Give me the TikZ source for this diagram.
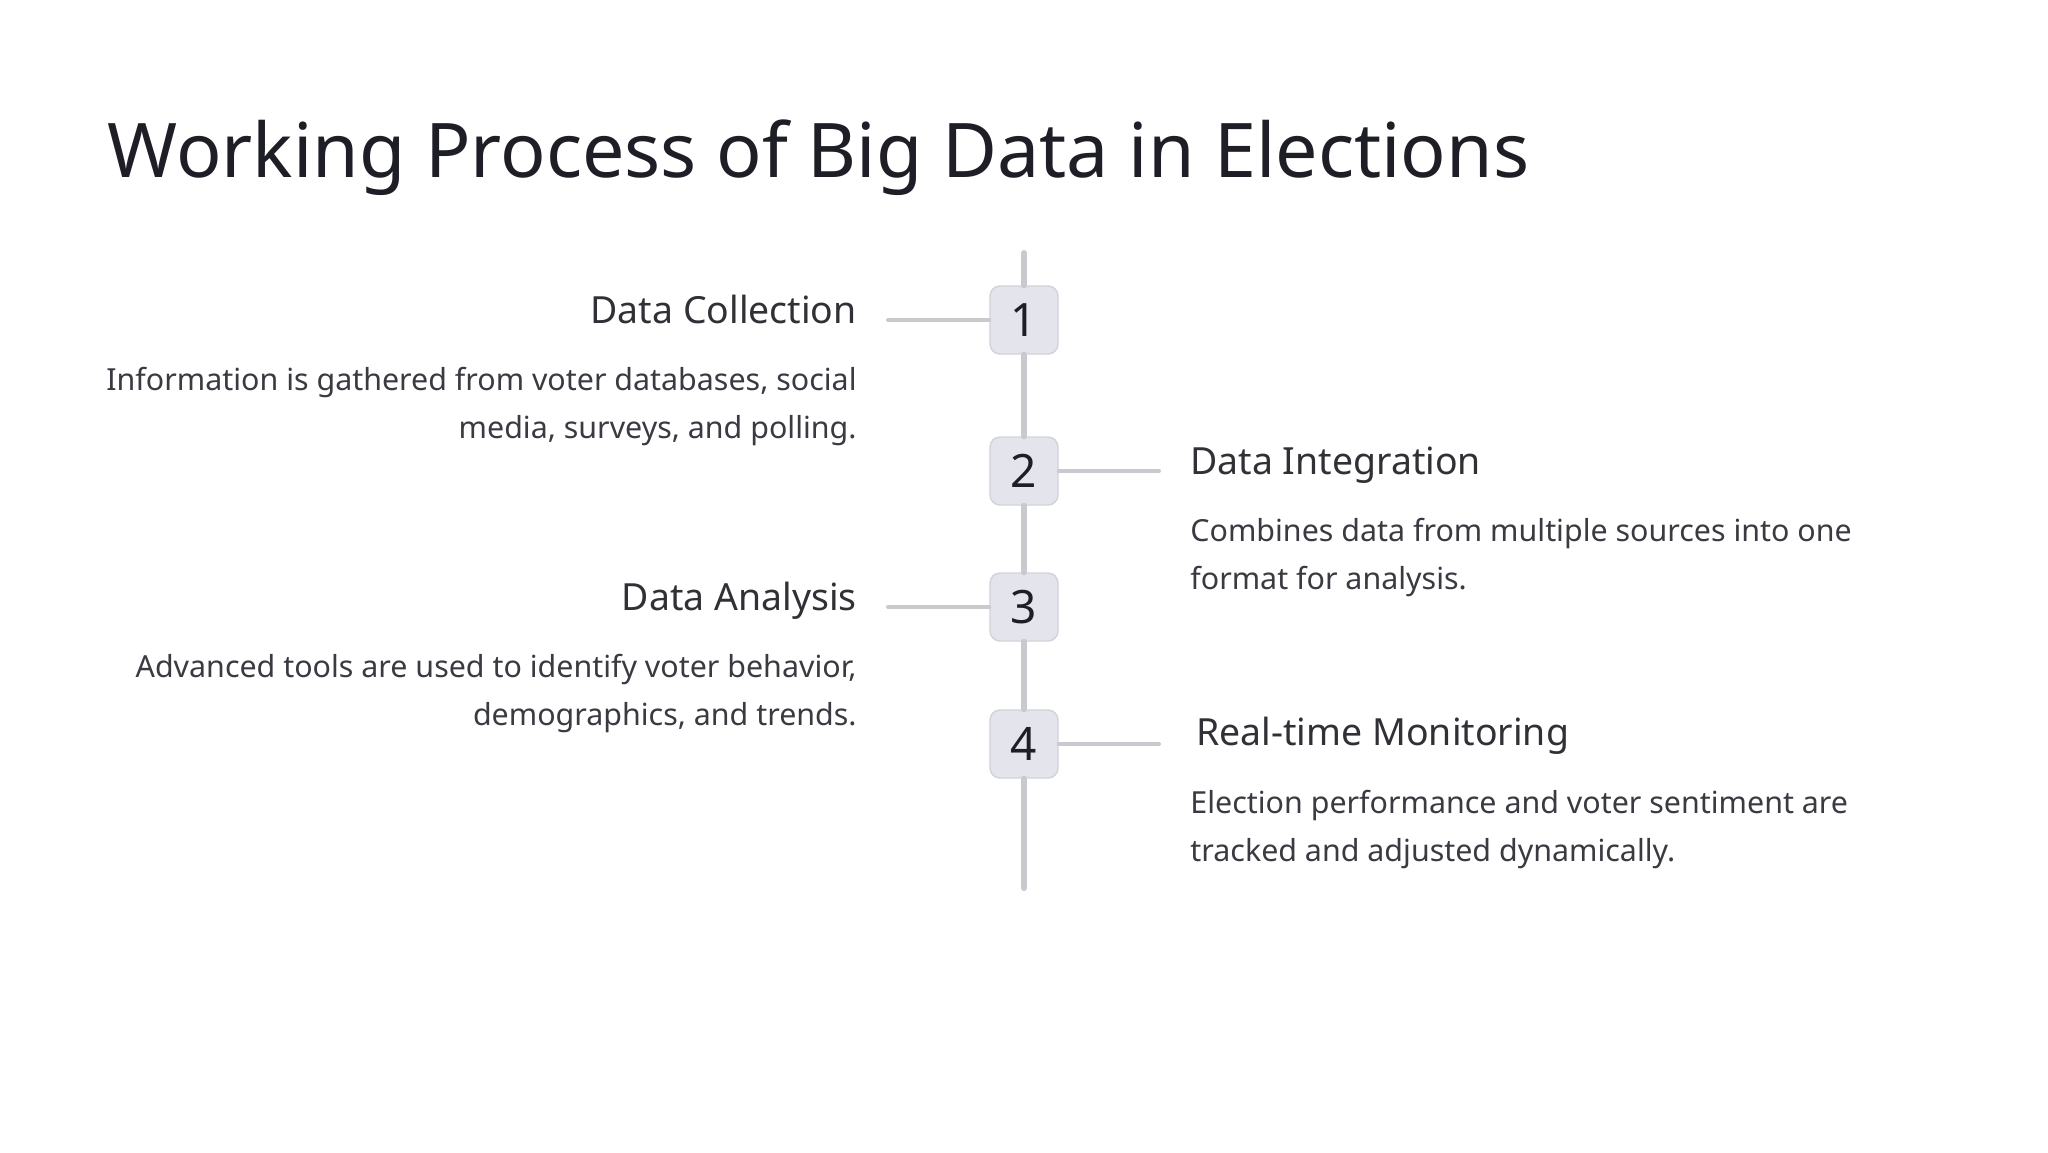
\documentclass[tikz,border=0pt]{standalone}
\usepackage{fontspec}
\setmainfont{Noto Sans}
\definecolor{titlecol}{HTML}{1E1E26}
\definecolor{headcol}{HTML}{303036}
\definecolor{bodycol}{HTML}{3A3A42}
\definecolor{linecol}{HTML}{C9C9CF}
\definecolor{boxfill}{HTML}{E4E5EC}
\definecolor{boxline}{HTML}{D2D3DA}

\begin{document}
\begin{tikzpicture}[x=0.5pt,y=-0.5pt,
  numbox/.style={draw=boxline,fill=boxfill,line width=0.7pt,rounded corners=5pt,
    minimum width=34pt,minimum height=34pt,inner sep=0pt,text=titlecol,
    font=\fontsize{23}{28}\selectfont},
  stephead/.style={inner sep=0pt,text=headcol,font=\fontsize{18.7}{22}\selectfont},
  stepbody/.style={inner sep=0pt,text=bodycol,font=\fontsize{15.2}{23.75}\selectfont},
  spine/.style={linecol,line width=3pt,line cap=round},
  tick/.style={linecol,line width=2pt,line cap=round}]
\useasboundingbox[fill=white] (0,0) rectangle (2048,1152);

\node[anchor=base west,inner sep=0pt,text=titlecol,font=\fontsize{37.7}{46}\selectfont]
  (title) at (107,177) {Working Process of Big Data in Elections};

% timeline
\coordinate (top) at (1024,253);
\coordinate (bot) at (1024,888);
\node[numbox] (s1) at (1024,320) {1};
\node[numbox] (s2) at (1024,471) {2};
\node[numbox] (s3) at (1024,607) {3};
\node[numbox] (s4) at (1024,744) {4};
\draw[spine] (top) -- (s1) -- (s2) -- (s3) -- (s4) -- (bot);

% ticks
\coordinate (t1) at (888,320);
\coordinate (t2) at (1159,471);
\coordinate (t3) at (888,607);
\coordinate (t4) at (1159,744);
\draw[tick] (t1) -- (s1.west);
\draw[tick] (s2.east) -- (t2);
\draw[tick] (t3) -- (s3.west);
\draw[tick] (s4.east) -- (t4);

% left side
\node[stephead,anchor=base east] (h1) at (857,323) {Data Collection};
\node[stepbody,anchor=base east,align=right] (b1) at (857,438)
  {Information is gathered from voter databases, social\\media, surveys, and polling.};
\node[stephead,anchor=base east] (h3) at (857,610) {Data Analysis};
\node[stepbody,anchor=base east,align=right] (b3) at (857,725)
  {Advanced tools are used to identify voter behavior,\\demographics, and trends.};

% right side
\node[stephead,anchor=base west] (h2) at (1190,474) {Data Integration};
\node[stepbody,anchor=base west,align=left] (b2) at (1190,589)
  {Combines data from multiple sources into one\\format for analysis.};
\node[stephead,anchor=base west] (h4) at (1196,745) {Real-time Monitoring};
\node[stepbody,anchor=base west,align=left] (b4) at (1190,861)
  {Election performance and voter sentiment are\\tracked and adjusted dynamically.};
\end{tikzpicture}
\end{document}
